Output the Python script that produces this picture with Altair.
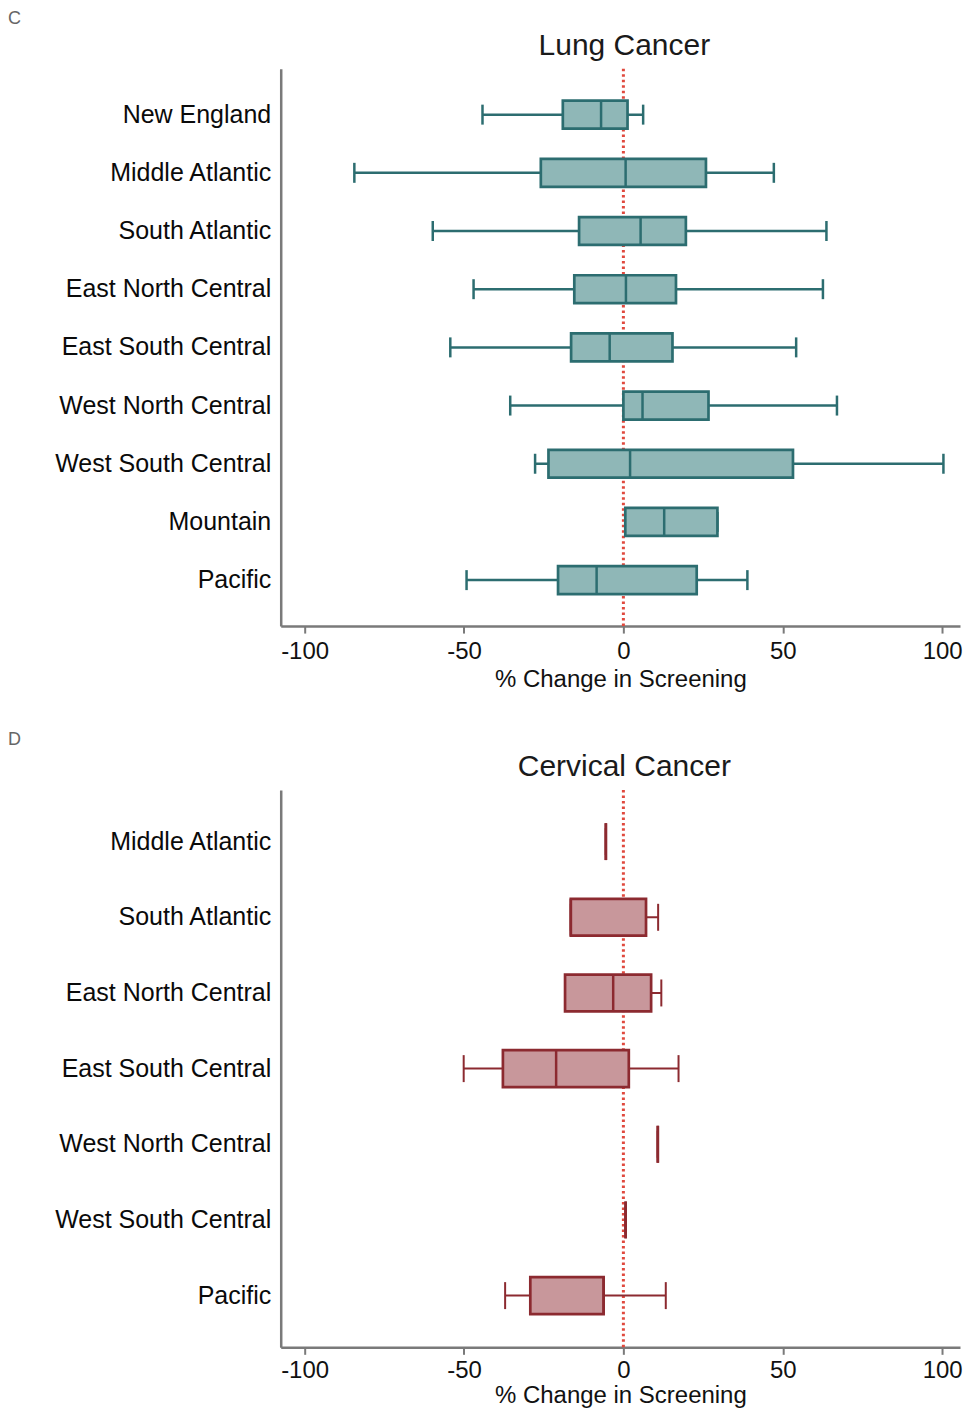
import altair as alt
import pandas as pd

# ---- Panel C: Lung Cancer ----
lung_regions = ["New England", "Middle Atlantic", "South Atlantic", "East North Central",
                "East South Central", "West North Central", "West South Central",
                "Mountain", "Pacific"]
lung_low = [-44.2, -84.4, -59.8, -47.0, -54.3, -35.5, -27.7, 0.6, -49.2]
lung_q1 = [-19.0, -25.9, -13.9, -15.4, -16.4, 0.0, -23.5, 0.6, -20.5]
lung_median = [-7.0, 0.7, 5.4, 0.8, -4.3, 6.0, 2.1, 12.8, -8.4]
lung_q3 = [1.3, 25.9, 19.6, 16.5, 15.4, 26.7, 53.2, 29.5, 23.0]
lung_high = [6.2, 47.2, 63.7, 62.6, 54.2, 67.0, 100.4, 29.5, 38.9]

# ---- Panel D: Cervical Cancer ----
cerv_regions = ["Middle Atlantic", "South Atlantic", "East North Central",
                "East South Central", "West North Central", "West South Central", "Pacific"]
cerv_low = [-5.5, -16.5, -18.3, -50.1, 10.8, 0.7, -37.1]
cerv_q1 = [-5.5, -16.5, -18.3, -37.8, 10.8, 0.7, -29.2]
cerv_median = [-5.5, -16.5, -3.2, -21.1, 10.8, 0.7, -6.2]
cerv_q3 = [-5.5, 7.1, 8.7, 1.7, 10.8, 0.7, -6.2]
cerv_high = [-5.5, 10.9, 11.9, 17.3, 10.8, 0.7, 13.3]

x_ticks = [-100, -50, 0, 50, 100]
x_title = "% Change in Screening"
FONT = "Liberation Sans"
W = 680
X_DOMAIN = [-107.5, 105.6]


def xenc(field, lp, tp):
    return alt.X(
        f"{field}:Q",
        title=x_title,
        scale=alt.Scale(domain=X_DOMAIN, nice=False, zero=False),
        axis=alt.Axis(values=x_ticks, grid=False, tickSize=7, tickWidth=2,
                      tickColor="#7a7a7a", domainColor="#7a7a7a", domainWidth=2.5,
                      labelFontSize=24, labelColor="#111111", labelPadding=lp,
                      labelFont=FONT, titleFont=FONT, titleFontSize=24,
                      labelExpr="datum.value + ''",
                      titleFontWeight="normal", titleColor="#111111", titlePadding=tp,
                      labelFlush=False),
    )


def panel(regions, low, q1, med, q3, high, title, letter, fill, stroke,
          height, pi, po, box_h, cap_h, wsw, lp, tp):
    df = pd.DataFrame({"region": regions, "low": low, "q1": q1, "median": med,
                       "q3": q3, "high": high})
    y = alt.Y("region:N", sort=regions, title=None,
              scale=alt.Scale(paddingInner=pi, paddingOuter=po),
              axis=alt.Axis(ticks=False, tickSize=0, labelPadding=10, labelFontSize=25,
                            labelFont=FONT, labelColor="#0a0a0a", labelLimit=400,
                            domainColor="#7a7a7a", domainWidth=2.5, grid=False))
    base = alt.Chart(df)
    zero = alt.Chart(pd.DataFrame({"z": [0]})).mark_rule(
        color="#e0493e", strokeDash=[2.5, 3], strokeWidth=3
    ).encode(x=xenc("z", lp, tp))
    whisk = base.mark_rule(color=stroke, strokeWidth=wsw).encode(
        x=xenc("low", lp, tp), x2="high:Q", y=y)
    box = base.mark_bar(fill=fill, stroke=stroke, strokeWidth=2.7, opacity=1).encode(
        x=xenc("q1", lp, tp), x2="q3:Q", y=y)
    median = base.mark_tick(orient="vertical", size=box_h, thickness=2.5, color=stroke,
                            opacity=1).encode(x=xenc("median", lp, tp), y=y)
    cap_lo = base.mark_tick(orient="vertical", size=cap_h, thickness=wsw, color=stroke,
                            opacity=1).encode(x=xenc("low", lp, tp), y=y)
    cap_hi = base.mark_tick(orient="vertical", size=cap_h, thickness=wsw, color=stroke,
                            opacity=1).encode(x=xenc("high", lp, tp), y=y)
    ttl = alt.Chart(pd.DataFrame({"t": [title]})).mark_text(
        fontSize=30, font=FONT, color="#1a1a1a", align="center", baseline="middle"
    ).encode(text="t:N", x=alt.value(344), y=alt.value(-23))
    let = alt.Chart(pd.DataFrame({"t": [letter]})).mark_text(
        fontSize=18, font=FONT, color="#666666", align="left", baseline="middle"
    ).encode(text="t:N", x=alt.value(-273), y=alt.value(-50))
    return alt.layer(zero, whisk, cap_lo, cap_hi, box, median, ttl, let).properties(
        width=W, height=height)


c = panel(lung_regions, lung_low, lung_q1, lung_median, lung_q3, lung_high,
          "Lung Cancer", "C", "#8fb7b7", "#2c6d70", 558, 0.52, 0.55, 28, 20, 2.5, 6, 4)
d = panel(cerv_regions, cerv_low, cerv_q1, cerv_median, cerv_q3, cerv_high,
          "Cervical Cancer", "D", "#c8979b", "#8c2a30", 558, 0.513, 0.44, 37, 27, 2, 4, 1)

chart = alt.vconcat(c, d, spacing=40).properties(
    padding={"left": 0, "top": 1, "right": 0, "bottom": 0}
).configure(background="white").configure_view(strokeWidth=0)

chart.save("out.html", embed_options={"renderer": "svg", "actions": False})
